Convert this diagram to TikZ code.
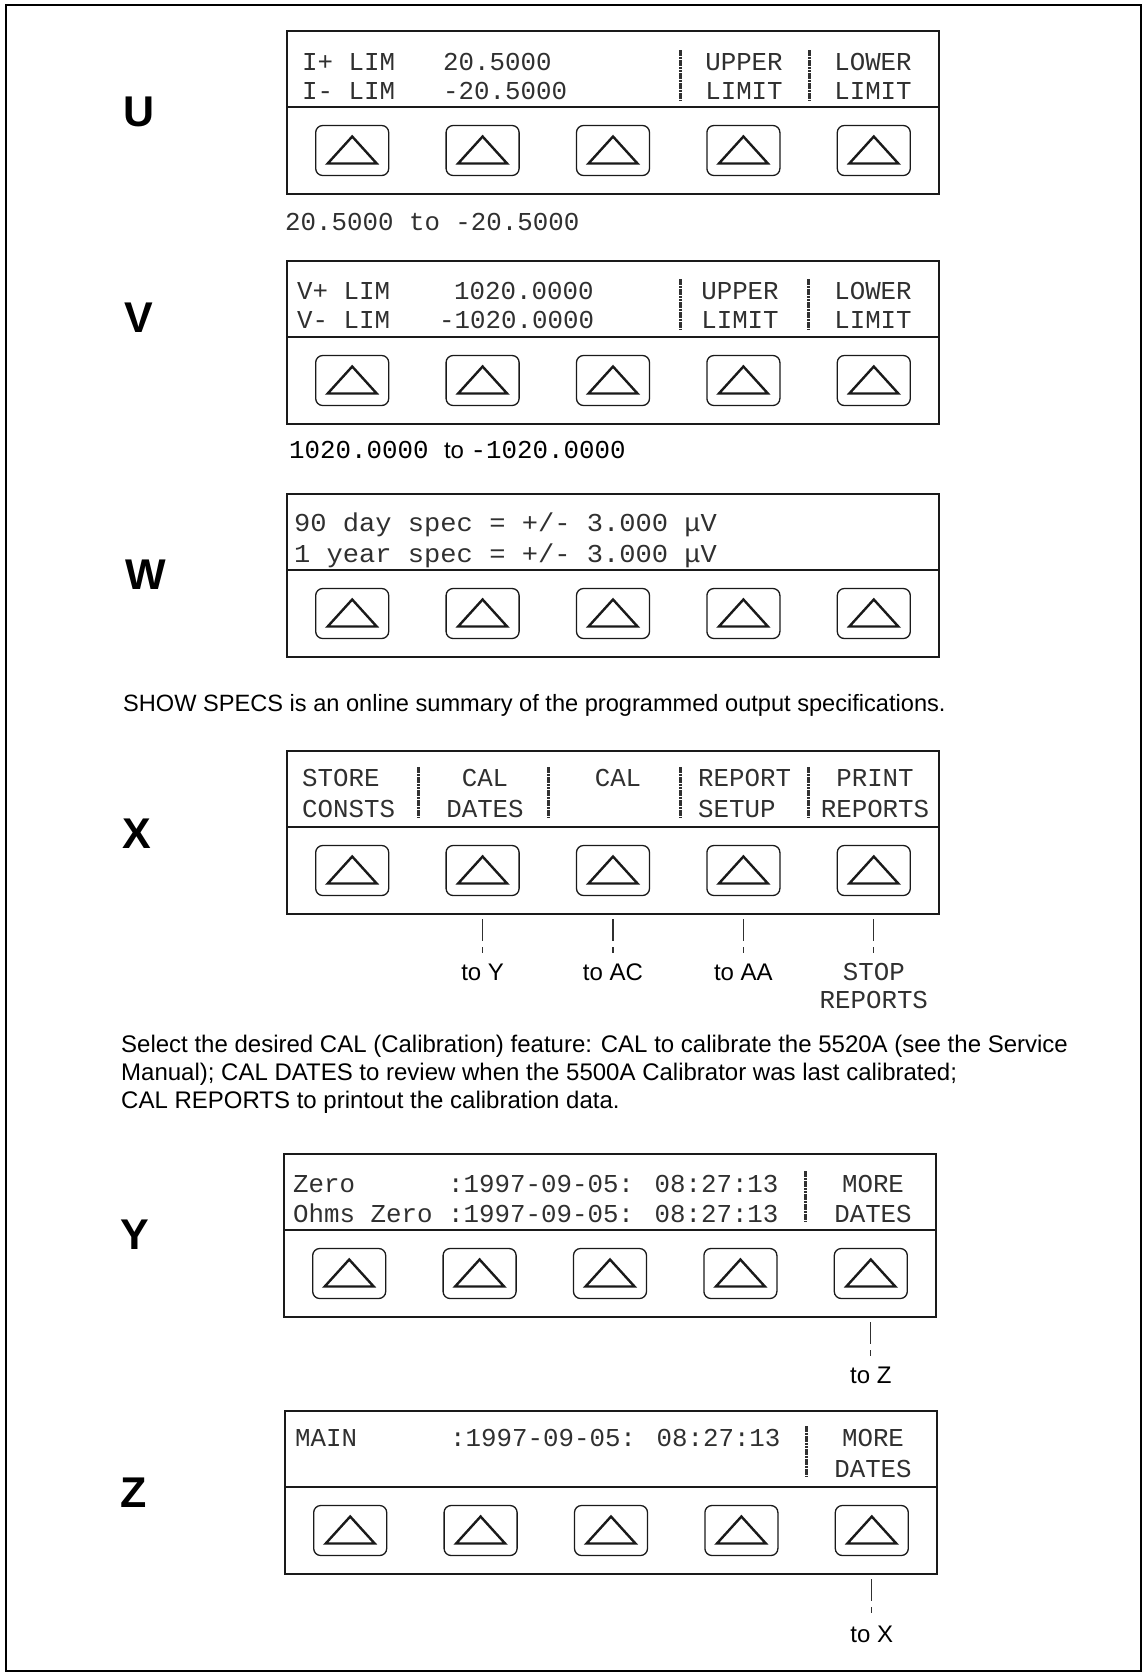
\documentclass[tikz,border=0pt]{standalone}
\usepackage{fontspec}
\setmainfont{Liberation Sans}
\newfontfamily\lcdfont{Liberation Mono}
\newfontfamily\lcdwidefont{Liberation Mono}[FakeStretch=1.05]
\usepackage{tikz}
\usetikzlibrary{positioning,calc}
\definecolor{lcdink}{HTML}{303030}
\definecolor{panelrule}{HTML}{1A1A1A}
\newcommand{\lcd}{\lcdfont\fontsize{25.8pt}{28pt}\selectfont}
\newcommand{\lcdwide}{\lcdwidefont\fontsize{25.8pt}{28pt}\selectfont}
\newcommand{\txt}{\fontsize{24pt}{28pt}\selectfont}
\tikzset{
 lcdbox/.style={rectangle, draw=panelrule, line width=1.4pt, outer sep=0pt,
 inner sep=0pt, minimum width=652pt, minimum height=76pt, anchor=north west},
 keybox/.style={lcdbox, minimum height=87pt},
 softkey/.style={rectangle, draw=panelrule, rounded corners=7pt, line width=1.3pt,
 minimum width=73pt, minimum height=50pt, inner sep=0pt,
 path picture={\draw[sharp corners, line width=2.4pt]
 ($(path picture bounding box.center)+(0,-14)$) -- ++(24.5,27) -- ++(-49,0) -- cycle;}},
 lcdtext/.style={font=\lcd, text=lcdink, inner sep=0pt, anchor=base west},
 lcdmid/.style={lcdtext, anchor=base},
 lcdbar/.style={draw=lcdink, line width=3pt, dash pattern=on 2.6pt off 0.7pt},
 menuid/.style={font=\bfseries\fontsize{43pt}{50pt}\selectfont, inner sep=0pt},
 note/.style={font=\txt, inner sep=0pt, anchor=base west},
 tolabel/.style={font=\txt, inner sep=3pt, anchor=base},
 jump/.style={draw=lcdink, line width=1.1pt, dash pattern=on 22pt off 6pt on 6pt off 80pt},
}
% five soft keys under a display
\newcommand{\keyrow}[1]{%
 \foreach \k in {1,...,5}{%
 \node[softkey] (k#1\k) at ($(key#1.west)+({130.4*\k-65.2},0)$) {};}}

\begin{document}
\begin{tikzpicture}[x=1pt, y=-1pt]
\useasboundingbox (0,0) rectangle (1144,1674);
\draw[line width=2pt] (6,5) rectangle (1141,1671);

% -- U: current limits ------------------------------
\node[menuid] (idU) at (139,112) {U};
\begin{scope}[shift={(287,31)}]
 \node[lcdbox] (lcdU) at (0,0) {};
 \node[keybox, below=0pt of lcdU] (keyU) {};
 \keyrow{U}
 \node[lcdtext] (uA) at (15,39) {I+ LIM};
 \node[lcdtext] (uB) at (15,68) {I- LIM};
 \node[lcdtext] (uC) at (156,39) {20.5000};
 \node[lcdtext] (uD) at (156,68) {-20.5000};
 \draw[lcdbar] (393,19) -- (393,69);
 \draw[lcdbar] (522,19) -- (522,69);
 \node[lcdmid] (uE) at (457,39) {UPPER};
 \node[lcdmid] (uF) at (457,68) {LIMIT};
 \node[lcdmid] (uG) at (586,39) {LOWER};
 \node[lcdmid] (uH) at (586,68) {LIMIT};
\end{scope}
\node[lcdtext] (rangeU) at (285,230) {20.5000 to -20.5000};

% -- V: voltage limits ------------------------------
\node[menuid] (idV) at (139,318) {V};
\begin{scope}[shift={(287,261)}]
 \node[lcdbox] (lcdV) at (0,0) {};
 \node[keybox, below=0pt of lcdV] (keyV) {};
 \keyrow{V}
 \node[lcdtext] (vA) at (10,38) {V+ LIM};
 \node[lcdtext] (vB) at (10,67) {V- LIM};
 \node[lcdtext] (vC) at (167,38) {1020.0000};
 \node[lcdtext] (vD) at (152,67) {-1020.0000};
 \draw[lcdbar] (393,18) -- (393,68);
 \draw[lcdbar] (521,18) -- (521,68);
 \node[lcdmid] (vE) at (453,38) {UPPER};
 \node[lcdmid] (vF) at (453,67) {LIMIT};
 \node[lcdmid] (vG) at (586,38) {LOWER};
 \node[lcdmid] (vH) at (586,67) {LIMIT};
\end{scope}
\node[note] (rangeV) at (289,458) {{\lcd 1020.0000 }to {\lcd -1020.0000}};

% -- W: show specs ----------------------------------
\node[menuid] (idW) at (146,575) {W};
\begin{scope}[shift={(287,494)}]
 \node[lcdbox] (lcdW) at (0,0) {};
 \node[keybox, below=0pt of lcdW] (keyW) {};
 \keyrow{W}
 \node[lcdtext, font=\lcdwide] (wA) at (7,37) {90 day spec = +/- 3.000 μV};
 \node[lcdtext, font=\lcdwide] (wB) at (7,68) {1 year spec = +/- 3.000 μV};
\end{scope}
\node[note, font=\fontsize{23.6pt}{28pt}\selectfont] (specnote) at (123,711)
 {SHOW SPECS is an online summary of the programmed output specifications.};

% -- X: cal menu ------------------------------------
\node[menuid] (idX) at (137,834) {X};
\begin{scope}[shift={(287,751)}]
 \node[lcdbox] (lcdX) at (0,0) {};
 \node[keybox, below=0pt of lcdX] (keyX) {};
 \keyrow{X}
 \node[lcdtext] (xA) at (15,35) {STORE};
 \node[lcdtext] (xB) at (15,66) {CONSTS};
 \node[lcdmid] (xC) at (198,35) {CAL};
 \node[lcdmid] (xD) at (198,66) {DATES};
 \node[lcdmid] (xE) at (331,35) {CAL};
 \node[lcdtext] (xF) at (411,35) {REPORT};
 \node[lcdtext] (xG) at (411,66) {SETUP};
 \node[lcdmid] (xH) at (588,35) {PRINT};
 \node[lcdmid] (xI) at (588,66) {REPORTS};
 \draw[lcdbar] (131,16) -- (131,67);
 \draw[lcdbar] (261,16) -- (261,67);
 \draw[lcdbar] (393,16) -- (393,67);
 \draw[lcdbar] (521,16) -- (521,67);
\end{scope}
\node[tolabel] (toY) at ($(kX2)+(0,110)$) {to Y};
\node[tolabel] (toAC) at ($(kX3)+(0,110)$) {to AC};
\node[tolabel] (toAA) at ($(kX4)+(0,110)$) {to AA};
\node[tolabel, font=\lcd, text=lcdink] (stopA) at ($(kX5)+(0,110)$) {STOP};
\node[lcdmid] (stopB) at ($(kX5)+(0,138)$) {REPORTS};
\draw[jump] (kX2 |- keyX.south) ++(0,5) -- (toY.north);
\draw[jump] (kX3 |- keyX.south) ++(0,5) -- (toAC.north);
\draw[jump] (kX4 |- keyX.south) ++(0,5) -- (toAA.north);
\draw[jump] (kX5 |- keyX.south) ++(0,5) -- (stopA.north);

\node[note] (selA) at (121,1052)
 {Select the desired CAL (Calibration) feature: CAL to calibrate the 5520A (see the Service};
\node[note] (selB) at (121,1080)
 {Manual); CAL DATES to review when the 5500A Calibrator was last calibrated;};
\node[note] (selC) at (121,1108) {CAL REPORTS to printout the calibration data.};

% -- Y: cal dates -----------------------------------
\node[menuid] (idY) at (135,1235) {Y};
\begin{scope}[shift={(284,1154)}]
 \node[lcdbox] (lcdY) at (0,0) {};
 \node[keybox, below=0pt of lcdY] (keyY) {};
 \keyrow{Y}
 \node[lcdtext] (yA) at (9,38) {Zero};
 \node[lcdtext] (yB) at (9,68) {Ohms Zero};
 \node[lcdtext] (yC) at (164,38) {:1997-09-05: 08:27:13};
 \node[lcdtext] (yD) at (164,68) {:1997-09-05: 08:27:13};
 \draw[lcdbar] (521,17) -- (521,68);
 \node[lcdmid] (yE) at (589,38) {MORE};
 \node[lcdmid] (yF) at (589,68) {DATES};
\end{scope}
\node[tolabel] (toZ) at ($(kY5)+(0,110)$) {to Z};
\draw[jump] (kY5 |- keyY.south) ++(0,5) -- (toZ.north);

% -- Z: more dates ----------------------------------
\node[menuid] (idZ) at (134,1493) {Z};
\begin{scope}[shift={(285,1411)}]
 \node[lcdbox] (lcdZ) at (0,0) {};
 \node[keybox, below=0pt of lcdZ] (keyZ) {};
 \keyrow{Z}
 \node[lcdtext] (zA) at (10,35) {MAIN};
 \node[lcdtext] (zB) at (165,35) {:1997-09-05: 08:27:13};
 \draw[lcdbar] (521,15) -- (521,66);
 \node[lcdmid] (zC) at (588,35) {MORE};
 \node[lcdmid] (zD) at (588,66) {DATES};
\end{scope}
\node[tolabel] (toX) at ($(kZ5)+(0,112)$) {to X};
\draw[jump] (kZ5 |- keyZ.south) ++(0,5) -- (toX.north);

\end{tikzpicture}
\end{document}
